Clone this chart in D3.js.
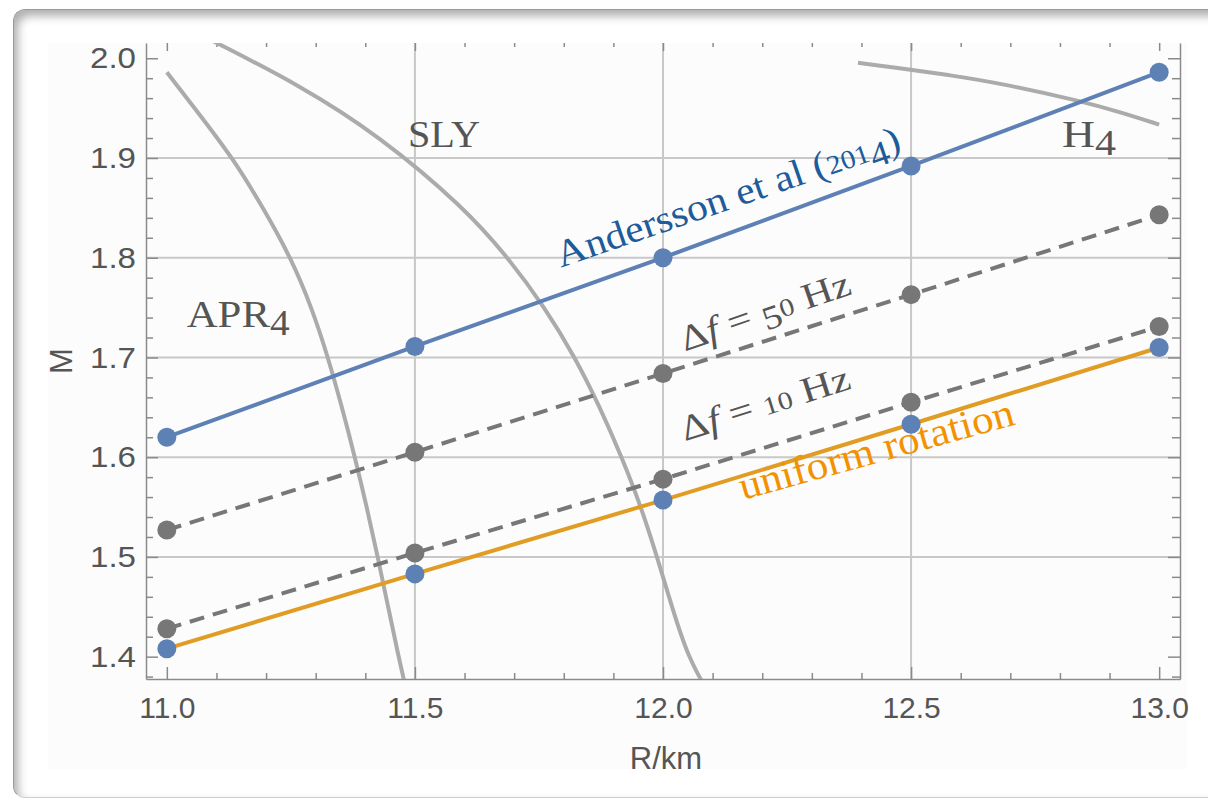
<!DOCTYPE html>
<html lang="en">
<head>
  <meta charset="UTF-8">
  <title>Mass-radius: spin-down limits</title>
  <script src="https://d3js.org/d3.v7.min.js"></script>
  <style>
    body {
      margin: 0;
      background: #fff;
      width: 1208px;
      height: 798px;
      overflow: hidden;
      position: relative;
    }
    #card {
      position: absolute;
      left: 13px;
      top: 9px;
      width: 1240px;
      height: 787px;
      border-radius: 12px;
      background: #fff;
      border-left: 1px solid #9a9a9a;
      border-top: 1px solid #9a9a9a;
      border-bottom: 1px solid #d0d0d0;
      box-shadow: inset 4px 6px 10px rgba(0,0,0,0.32);
    }
    svg {
      position: absolute;
      left: 0;
      top: 0;
    }
    .tick text {
      font-family: "Liberation Sans", Arial, sans-serif;
      font-size: 30px;
      fill: #555;
    }
    .frame path, .frame line {
      stroke: #8a8a8a;
      stroke-width: 1.5;
    }
    .grid {
      stroke: #c8c8c8;
      stroke-width: 2;
    }
  </style>
</head>
<body>
  <div id="card"></div>
  <svg width="1208" height="798"></svg>

  <script>
    // R values (km) where the curves were sampled
    const radius = [11.0, 11.5, 12.0, 12.5, 13.0];
    const massAndersson = [1.620, 1.711, 1.800, 1.892, 1.986];
    const massDf50 = [1.527, 1.605, 1.684, 1.763, 1.843];
    const massDf10 = [1.428, 1.504, 1.578, 1.655, 1.731];
    const massUniform = [1.408, 1.483, 1.557, 1.633, 1.710];

    // equation-of-state mass-radius curves
    const apr4R = [11.000, 11.056, 11.133, 11.194, 11.250, 11.292, 11.325, 11.353, 11.379, 11.403, 11.425, 11.446, 11.467, 11.480];
    const apr4M = [1.986, 1.950, 1.900, 1.850, 1.800, 1.750, 1.700, 1.650, 1.600, 1.550, 1.500, 1.450, 1.400, 1.372];
    const slyR = [11.09, 11.268, 11.429, 11.600, 11.688, 11.762, 11.823, 11.873, 11.917, 11.956, 11.988, 12.018, 12.050, 12.090];
    const slyM = [2.018, 1.973, 1.922, 1.850, 1.800, 1.750, 1.700, 1.650, 1.600, 1.550, 1.500, 1.450, 1.400, 1.365];
    const h4R = [12.393, 12.478, 12.579, 12.679, 12.845, 12.921, 13.000];
    const h4M = [1.9955, 1.990, 1.983, 1.975, 1.9567, 1.946, 1.9335];

    const xTicks = [11.0, 11.5, 12.0, 12.5, 13.0];
    const yTicks = [1.4, 1.5, 1.6, 1.7, 1.8, 1.9, 2.0];
    const xGrid = [11.5, 12.0, 12.5];
    const yGrid = [1.5, 1.6, 1.7, 1.8, 1.9];

    const svg = d3.select("svg"),
          pLeft = 146, pRight = 1180, pTop = 43, pBottom = 679;

    const x = d3.scaleLinear().domain([10.958, 13.042]).range([pLeft, pRight]);
    const y = d3.scaleLinear().domain([1.3776, 2.0153]).range([pBottom, pTop]);

    const xMinor = d3.range(11.0, 13.05, 0.1).map(v => +v.toFixed(2)).filter(v => !xTicks.includes(v));
    const yMinor = d3.range(1.38, 2.01, 0.02).map(v => +v.toFixed(2)).filter(v => !yTicks.includes(v));

    // faint background of the pasted plot image
    svg.append("rect")
      .attr("x", 48).attr("y", pTop)
      .attr("width", 1139).attr("height", 726)
      .attr("fill", "#fcfcfc");

    // grid lines
    svg.append("g").selectAll("line")
      .data(xGrid).join("line")
        .attr("class", "grid")
        .attr("x1", d => x(d)).attr("x2", d => x(d))
        .attr("y1", pTop).attr("y2", pBottom);
    svg.append("g").selectAll("line")
      .data(yGrid).join("line")
        .attr("class", "grid")
        .attr("x1", pLeft).attr("x2", pRight)
        .attr("y1", d => y(d)).attr("y2", d => y(d));

    // frame with ticks on all sides
    const fmt = d3.format(".1f");
    svg.append("g").attr("class", "frame")
      .attr("transform", `translate(0,${pBottom})`)
      .call(d3.axisBottom(x).tickValues(xTicks).tickFormat(fmt).tickSizeInner(-12).tickSizeOuter(0).tickPadding(18));
    svg.append("g").attr("class", "frame")
      .attr("transform", `translate(0,${pBottom})`)
      .call(d3.axisBottom(x).tickValues(xMinor).tickFormat("").tickSizeInner(-6).tickSizeOuter(0))
      .select(".domain").remove();
    svg.append("g").attr("class", "frame")
      .attr("transform", `translate(${pLeft},0)`)
      .call(d3.axisLeft(y).tickValues(yTicks).tickFormat(fmt).tickSizeInner(-12).tickSizeOuter(0).tickPadding(10))
      .selectAll(".tick text").attr("textLength", 46).attr("lengthAdjust", "spacingAndGlyphs");
    svg.append("g").attr("class", "frame")
      .attr("transform", `translate(${pLeft},0)`)
      .call(d3.axisLeft(y).tickValues(yMinor).tickFormat("").tickSizeInner(-7).tickSizeOuter(0))
      .select(".domain").remove();
    svg.append("g").attr("class", "frame")
      .attr("transform", `translate(${pRight},0)`)
      .call(d3.axisRight(y).tickValues(yTicks).tickFormat("").tickSizeInner(-12).tickSizeOuter(0));
    svg.append("g").attr("class", "frame")
      .attr("transform", `translate(${pRight},0)`)
      .call(d3.axisRight(y).tickValues(yMinor).tickFormat("").tickSizeInner(-8).tickSizeOuter(0))
      .select(".domain").remove();
    svg.append("g").attr("class", "frame")
      .attr("transform", `translate(0,${pTop})`)
      .call(d3.axisTop(x).tickValues(xTicks).tickFormat("").tickSizeInner(-8).tickSizeOuter(0))
      .select(".domain").remove();
    svg.append("g").attr("class", "frame")
      .attr("transform", `translate(0,${pTop})`)
      .call(d3.axisTop(x).tickValues(xMinor).tickFormat("").tickSizeInner(-4).tickSizeOuter(0))
      .select(".domain").remove();

    // axis titles
    svg.append("text")
      .attr("x", (pLeft + pRight) / 2 + 3).attr("y", 769)
      .attr("text-anchor", "middle")
      .style("font-family", "Liberation Sans, Arial, sans-serif")
      .style("font-size", "31px").style("fill", "#555")
      .text("R/km");
    svg.append("text")
      .attr("transform", `translate(72,${(pTop + pBottom) / 2}) rotate(-90)`)
      .attr("text-anchor", "middle")
      .style("font-family", "Liberation Sans, Arial, sans-serif")
      .style("font-size", "31px").style("fill", "#555")
      .text("M");

    svg.append("clipPath").attr("id", "clip")
      .append("rect").attr("x", pLeft).attr("y", pTop)
      .attr("width", pRight - pLeft).attr("height", pBottom - pTop);
    const plot = svg.append("g").attr("clip-path", "url(#clip)");

    // EOS curves
    const eosLine = d3.line().x(d => x(d[0])).y(d => y(d[1])).curve(d3.curveBasis);
    [[apr4R, apr4M], [slyR, slyM], [h4R, h4M]].forEach(([rs, ms]) => {
      plot.append("path")
        .datum(rs.map((r, i) => [r, ms[i]]))
        .attr("d", eosLine)
        .attr("fill", "none")
        .attr("stroke", "#ababab")
        .attr("stroke-width", 4);
    });

    // limit lines
    const line = d3.line().x(d => x(d[0])).y(d => y(d[1]));
    const series = [
      {m: massDf50, stroke: "#777", dash: "15,9", dot: "#777"},
      {m: massDf10, stroke: "#777", dash: "15,9", dot: "#777"},
      {m: massUniform, stroke: "#e19c24", dash: null, dot: "#5e81b5"},
      {m: massAndersson, stroke: "#5e81b5", dash: null, dot: "#5e81b5"}
    ];
    series.forEach(s => {
      plot.append("path")
        .datum(radius.map((r, i) => [r, s.m[i]]))
        .attr("d", line)
        .attr("fill", "none")
        .attr("stroke", s.stroke)
        .attr("stroke-width", 4)
        .attr("stroke-dasharray", s.dash);
    });
    series.forEach(s => {
      plot.append("g").selectAll("circle")
        .data(radius.map((r, i) => [r, s.m[i]]))
        .join("circle")
          .attr("cx", d => x(d[0]))
          .attr("cy", d => y(d[1]))
          .attr("r", 9.5)
          .attr("fill", s.dot);
    });

    // annotations: text, anchor (R, M), angle, size, length, colour
    const labels = [
      {t: "APR4", r: 11.04, m: 1.731, a: 0, size: 38, len: 103, c: "#555"},
      {t: "SLY", r: 11.486, m: 1.911, a: 0, size: 38, len: 72, c: "#555"},
      {t: "H4", r: 12.804, m: 1.911, a: 0, size: 38, len: 54, c: "#555"},
      {t: "Andersson et al (2014)", r: 11.794, m: 1.790, a: -19, size: 38, len: 362, c: "#1d5b9a"},
      {t: "Δ*f* = 50 Hz", r: 12.044, m: 1.706, a: -19, size: 36, len: 178, c: "#555"},
      {t: "Δ*f* = 10 Hz", r: 12.044, m: 1.616, a: -17.5, size: 36, len: 176, c: "#555"},
      {t: "uniform rotation", r: 12.161, m: 1.557, a: -15.5, size: 40, len: 284, c: "#f39200"}
    ];

    labels.forEach(l => {
      const txt = svg.append("text")
        .attr("transform", `translate(${x(l.r)},${y(l.m)}) rotate(${l.a})`)
        .attr("textLength", l.len)
        .attr("lengthAdjust", "spacingAndGlyphs")
        .style("font-family", "Liberation Serif, Times New Roman, serif")
        .style("font-size", l.size + "px")
        .style("fill", l.c);
      // old-style figures: 0 1 2 sit at x-height, 3 4 5 7 9 drop below the baseline
      let shift = 0, italic = false;
      for (const ch of l.t) {
        if (ch === "*") { italic = !italic; continue; }
        const digit = /[0-9]/.test(ch);
        const low = /[34579]/.test(ch);
        const want = low ? Math.round(l.size * 0.2) : 0;
        const ts = txt.append("tspan").text(ch);
        if (digit) ts.attr("font-size", l.size * (low ? 0.92 : 0.7));
        if (italic) ts.attr("font-style", "italic");
        if (want !== shift) { ts.attr("dy", want - shift); shift = want; }
      }
    });
  </script>
</body>
</html>
